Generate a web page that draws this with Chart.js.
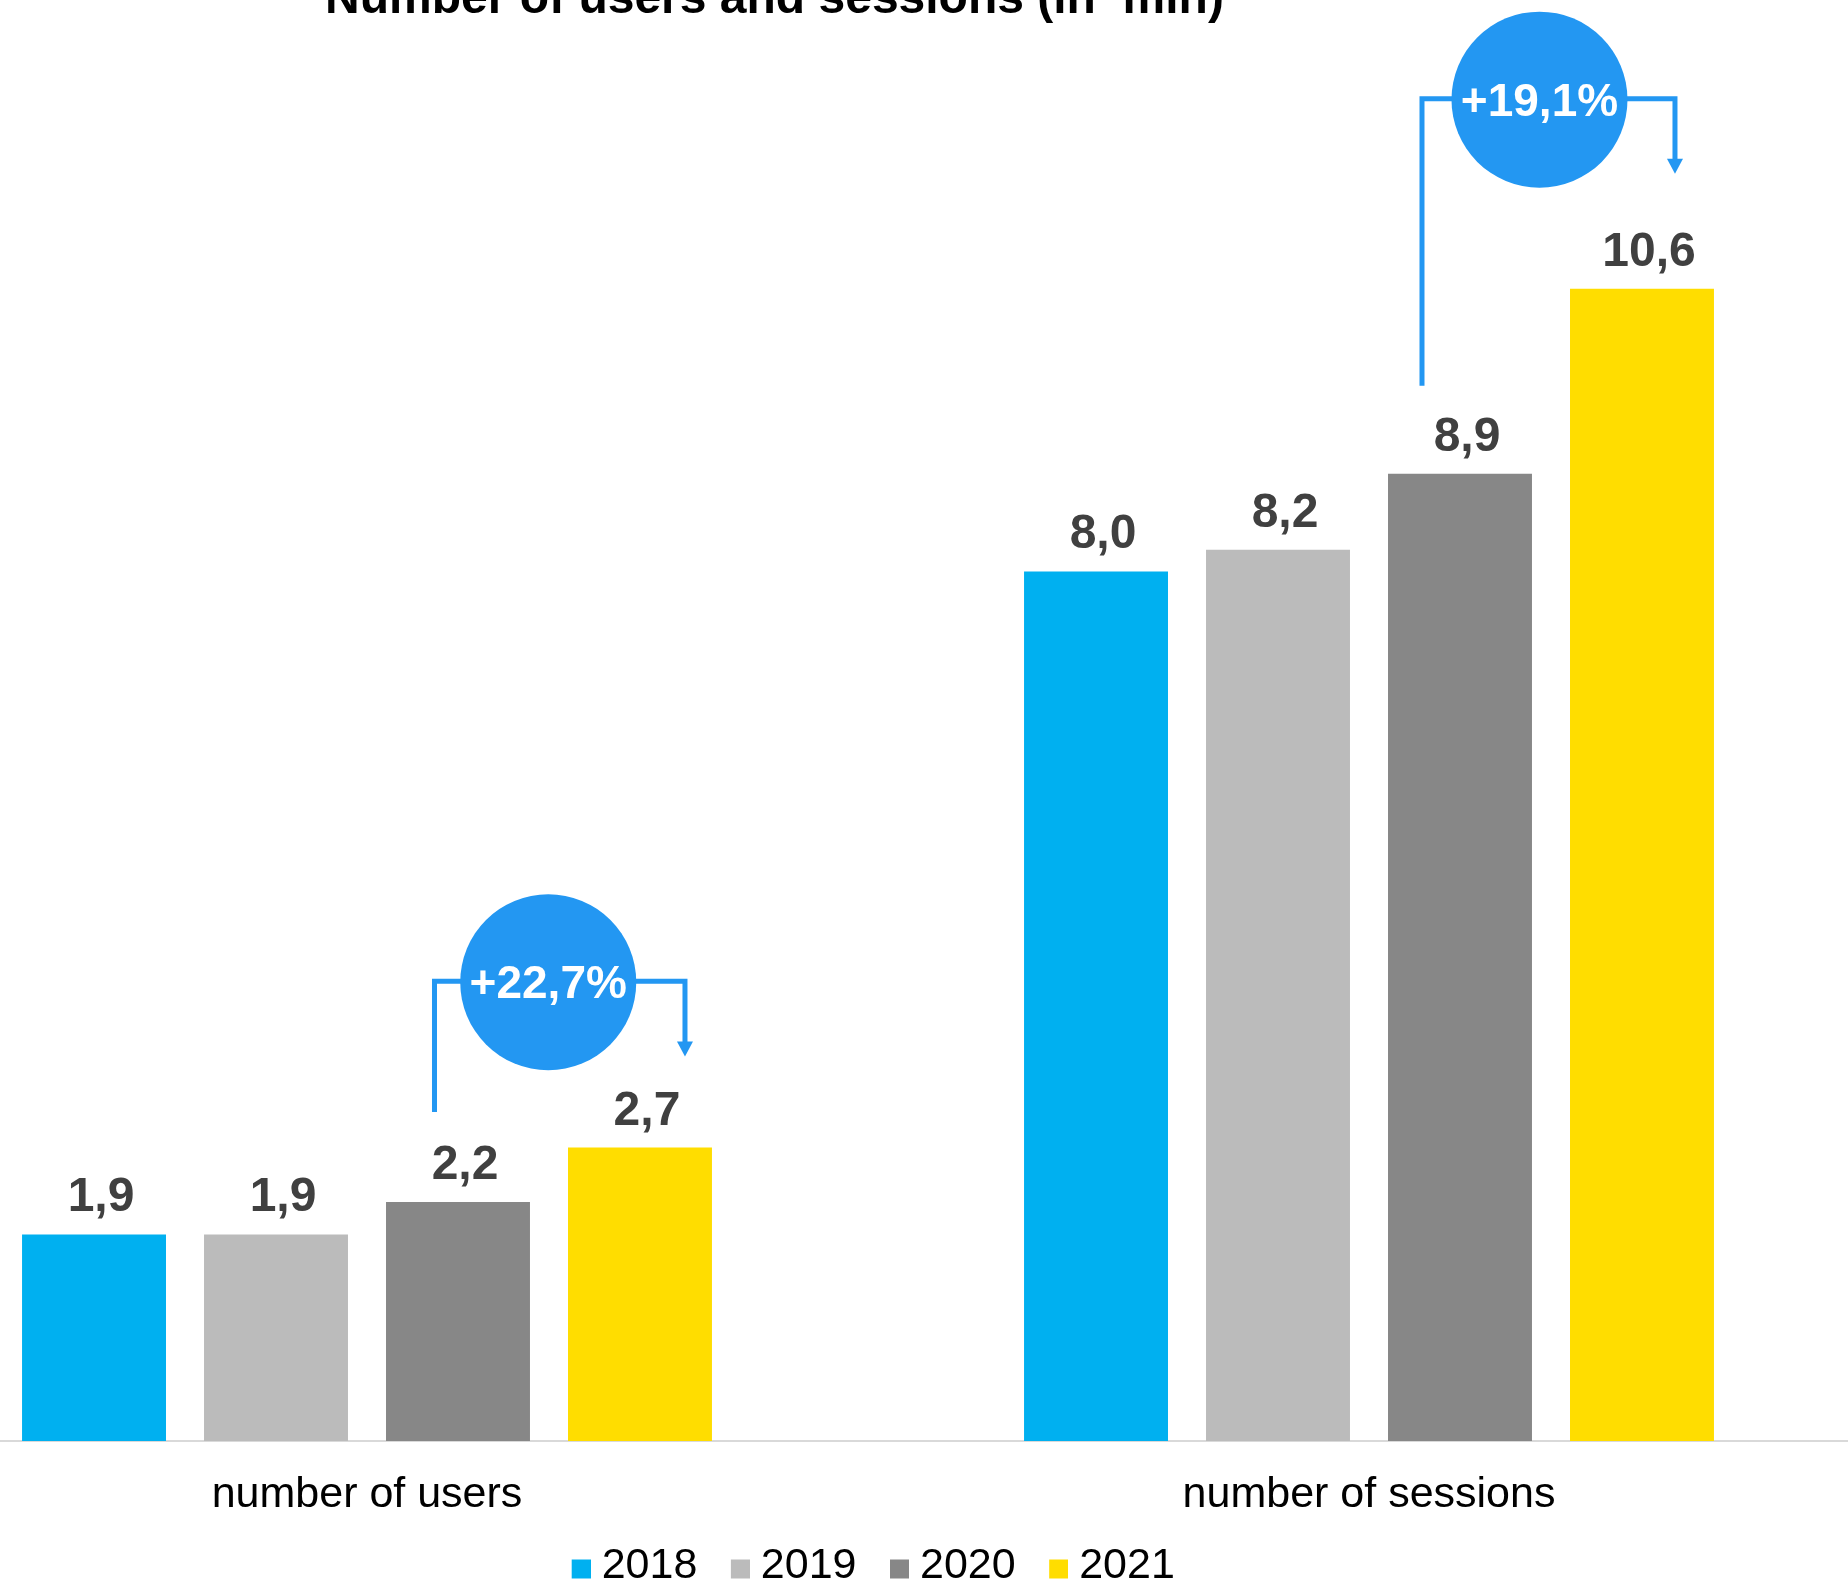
<!DOCTYPE html>
<html>
<head>
<meta charset="utf-8">
<title>Number of users and sessions</title>
<script src="https://cdn.jsdelivr.net/npm/chart.js@4/dist/chart.umd.min.js"></script>
<style>
  html, body { margin: 0; padding: 0; background: #ffffff; }
  body { width: 1848px; height: 1582px; overflow: hidden; position: relative; }
  #wrap { position: absolute; left: -134px; top: 0; width: 2004px; height: 1598px; }
</style>
</head>
<body>
<div id="wrap"><canvas id="chart" width="2004" height="1598"></canvas></div>
<script>
// Categories and yearly values (mln)
const categories = ['number of users', 'number of sessions'];
const years = ['2018', '2019', '2020', '2021'];
const values2018 = [1.9, 8.0];
const values2019 = [1.9, 8.2];
const values2020 = [2.2, 8.9];
const values2021 = [2.7, 10.6];

const seriesValues = [values2018, values2019, values2020, values2021];
const seriesColors = ['#00B0F0', '#BBBBBB', '#878787', '#FFDD00'];

const FONT = '"Liberation Sans", Arial, Helvetica, sans-serif';
const fmt = v => v.toFixed(1).replace('.', ',');

// Growth 2020 -> 2021 per category, shown in the blue bubbles
const growthLabels = categories.map((_, i) =>
  '+' + fmt((values2021[i] / values2020[i] - 1) * 100) + '%');

// Placement of the bracket arrows (pixel offsets from the bars, level in axis units)
const bracketLayout = [
  { level: 4.23,  fromDx: -23.5, toDx: 45, startGap: 90, tipGap: 91,  bubbleDx: -11.5 },
  { level: 12.35, fromDx: -38,   toDx: 33, startGap: 88, tipGap: 115, bubbleDx: -9 }
];

// Legend swatches: square in the lower half of the line, close to the year label
const legendSwatches = seriesColors.map(c => {
  const cv = document.createElement('canvas');
  cv.width = 40;
  cv.height = 30;
  const g = cv.getContext('2d');
  g.fillStyle = c;
  g.fillRect(21, 8, 19, 19);
  return cv;
});

const titlePlugin = {
  id: 'topTitle',
  afterDraw(chart) {
    const ctx = chart.ctx;
    ctx.save();
    ctx.font = 'bold 48px ' + FONT;
    ctx.fillStyle = '#000000';
    ctx.textAlign = 'center';
    ctx.textBaseline = 'alphabetic';
    ctx.fillText('Number of users and sessions (in  mln)', 908.5, 13);
    ctx.restore();
  }
};

const valueLabelPlugin = {
  id: 'valueLabels',
  afterDatasetsDraw(chart) {
    const ctx = chart.ctx;
    ctx.save();
    ctx.font = 'bold 48px ' + FONT;
    ctx.fillStyle = '#404040';
    ctx.textAlign = 'center';
    ctx.textBaseline = 'alphabetic';
    chart.data.datasets.forEach((ds, di) => {
      const meta = chart.getDatasetMeta(di);
      meta.data.forEach((bar, i) => {
        ctx.fillText(fmt(ds.data[i]), bar.x + 7, bar.y - 23);
      });
    });
    ctx.restore();
  }
};

const growthPlugin = {
  id: 'growthBrackets',
  afterDatasetsDraw(chart) {
    const ctx = chart.ctx;
    const yScale = chart.scales.y;
    const fromMeta = chart.getDatasetMeta(2);
    const toMeta = chart.getDatasetMeta(3);
    const blue = '#2397F2';
    ctx.save();
    bracketLayout.forEach((lay, i) => {
      const fromBar = fromMeta.data[i];
      const toBar = toMeta.data[i];
      const xL = fromBar.x + lay.fromDx;
      const xR = toBar.x + lay.toDx;
      const yTop = yScale.getPixelForValue(lay.level);
      const yStart = fromBar.y - lay.startGap;
      const yTip = toBar.y - lay.tipGap;
      const head = 15;

      ctx.strokeStyle = blue;
      ctx.lineWidth = 5;
      ctx.lineJoin = 'miter';
      ctx.lineCap = 'butt';
      ctx.beginPath();
      ctx.moveTo(xL, yStart);
      ctx.lineTo(xL, yTop);
      ctx.lineTo(xR, yTop);
      ctx.lineTo(xR, yTip - head + 1);
      ctx.stroke();

      ctx.fillStyle = blue;
      ctx.beginPath();
      ctx.moveTo(xR - 8, yTip - head);
      ctx.lineTo(xR + 8, yTip - head);
      ctx.lineTo(xR, yTip);
      ctx.closePath();
      ctx.fill();

      const cx = (xL + xR) / 2 + lay.bubbleDx;
      const cy = yTop + 1;
      ctx.beginPath();
      ctx.arc(cx, cy, 88, 0, Math.PI * 2);
      ctx.fill();

      ctx.fillStyle = '#ffffff';
      ctx.font = 'bold 46px ' + FONT;
      ctx.textAlign = 'center';
      ctx.textBaseline = 'alphabetic';
      ctx.fillText(growthLabels[i], cx, cy + 16);
    });
    ctx.restore();
  }
};

new Chart(document.getElementById('chart'), {
  type: 'bar',
  data: {
    labels: categories,
    datasets: years.map((y, k) => ({
      label: y,
      data: seriesValues[k],
      backgroundColor: seriesColors[k],
      borderWidth: 0,
      categoryPercentage: 0.7265,
      barPercentage: 0.791
    }))
  },
  options: {
    responsive: false,
    devicePixelRatio: 1,
    animation: false,
    layout: { padding: { top: 28, left: 0, right: 0, bottom: 0 } },
    scales: {
      x: {
        grid: { display: false, drawTicks: false },
        border: { display: true, color: '#D9D9D9', width: 2 },
        ticks: { color: '#000000', padding: 28, font: { family: FONT, size: 43 } },
        afterFit(scale) { scale.height = 81; }
      },
      y: { display: false, min: 0, max: 13 }
    },
    plugins: {
      legend: {
        position: 'bottom',
        labels: {
          usePointStyle: true,
          boxWidth: 19,
          boxHeight: 19,
          padding: 23,
          color: '#000000',
          font: { family: FONT, size: 43 },
          generateLabels(chart) {
            return Chart.defaults.plugins.legend.labels.generateLabels(chart)
              .map(item => Object.assign(item, { pointStyle: legendSwatches[item.datasetIndex] }));
          }
        }
      },
      tooltip: { enabled: false },
      title: { display: false }
    }
  },
  plugins: [titlePlugin, valueLabelPlugin, growthPlugin]
});
</script>
</body>
</html>
